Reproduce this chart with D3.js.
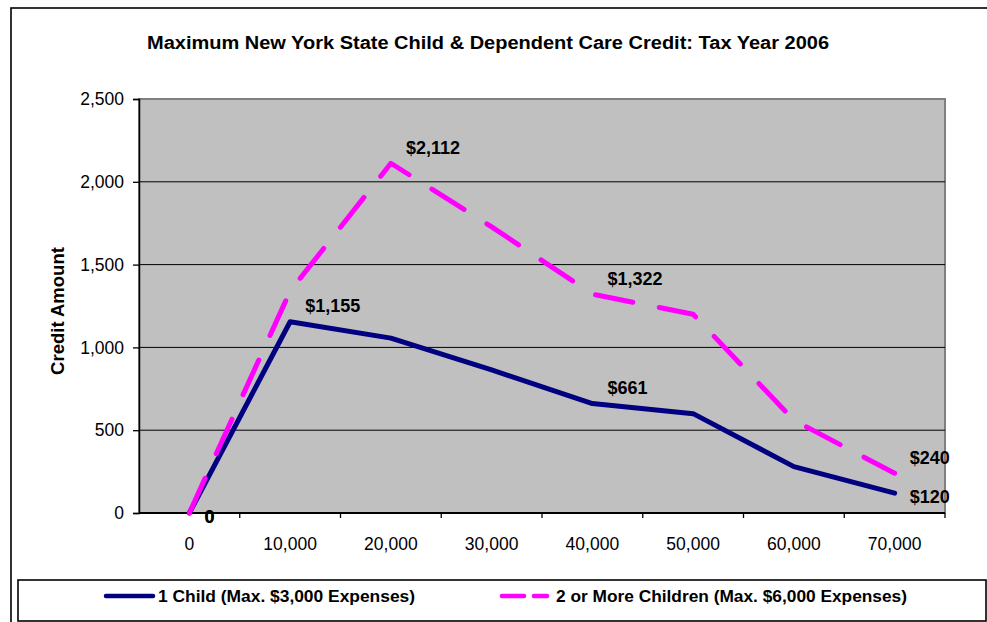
<!DOCTYPE html>
<html><head><meta charset="utf-8">
<script src="https://cdn.jsdelivr.net/npm/d3@7"></script>
<style>
html,body{margin:0;padding:0;background:#fff;}
svg{display:block;font-family:"Liberation Sans",Arial,sans-serif;}
</style></head>
<body><svg id="c" width="987" height="622"></svg>
<script>
const categories = [0, 10000, 20000, 30000, 40000, 50000, 60000, 70000];
const tickLabels = ["0", "10,000", "20,000", "30,000", "40,000", "50,000", "60,000", "70,000"];
const oneChild = [0, 1155, 1056, 864, 661, 600, 280, 120];
const twoPlus = [0, 1340, 2112, 1728, 1322, 1200, 560, 240];
const yTicks = [0, 500, 1000, 1500, 2000, 2500];
const seriesNames = ["1 Child (Max. $3,000 Expenses)", "2 or More Children (Max. $6,000 Expenses)"];
const titleText = "Maximum New York State Child & Dependent Care Credit: Tax Year 2006";
const yTitle = "Credit Amount";

const svg = d3.select("#c");
const L = 139, R = 945, T = 99, B = 513;

// outer chart border
svg.append("rect").attr("x", 11).attr("y", 8).attr("width", 1000).attr("height", 700)
  .attr("fill", "#fff").attr("stroke", "#000").attr("stroke-width", 1.6);

const x = d3.scaleBand().domain(categories).range([L, R]).padding(0);
const y = d3.scaleLinear().domain([0, 2500]).range([B, T]);
const cx = d => x(d) + x.bandwidth() / 2;

// plot area
svg.append("rect").attr("x", L).attr("y", T).attr("width", R - L).attr("height", B - T)
  .attr("fill", "#C0C0C0").attr("stroke", "#808080").attr("stroke-width", 2);

// gridlines
svg.append("g").selectAll("line").data(yTicks.filter(v => v > 0 && v < 2500)).join("line")
  .attr("x1", L).attr("x2", R).attr("y1", d => y(d)).attr("y2", d => y(d))
  .attr("stroke", "#000").attr("stroke-width", 1);

// y axis
const yAxis = d3.axisLeft(y).tickValues(yTicks).tickFormat(d3.format(",")).tickSize(6).tickPadding(9);
const gy = svg.append("g").attr("transform", `translate(${L},0)`).call(yAxis);
gy.select(".domain").attr("stroke", "#000").attr("stroke-width", 1.5);
gy.selectAll(".tick line").attr("stroke", "#000").attr("stroke-width", 1.3);
gy.selectAll(".tick text").attr("font-size", "17.5px").attr("fill", "#000")
  .attr("font-family", "'Liberation Sans', Arial, sans-serif");

// x axis
const gx = svg.append("g").attr("transform", `translate(0,${B})`);
gx.append("line").attr("x1", L).attr("x2", R).attr("stroke", "#000").attr("stroke-width", 2);
gx.selectAll("line.t").data(categories).join("line").attr("class", "t")
  .attr("x1", d => x(d) + x.bandwidth()).attr("x2", d => x(d) + x.bandwidth())
  .attr("y1", 0).attr("y2", 5).attr("stroke", "#000").attr("stroke-width", 1.3);
gx.selectAll("text").data(categories).join("text")
  .attr("x", d => cx(d)).attr("y", 37).attr("text-anchor", "middle")
  .attr("font-size", "17.5px").attr("fill", "#000")
  .text((d, i) => tickLabels[i]);

// lines
const line = d3.line().x((d, i) => cx(categories[i])).y(d => y(d));
svg.append("path").datum(oneChild).attr("d", line).attr("fill", "none")
  .attr("stroke", "#000080").attr("stroke-width", 5).attr("stroke-linejoin", "round").attr("stroke-linecap", "round");
svg.append("path").datum(twoPlus).attr("d", line).attr("fill", "none")
  .attr("stroke", "#FF00FF").attr("stroke-width", 5).attr("stroke-dasharray", "38,27")
  .attr("stroke-linejoin", "round").attr("stroke-linecap", "round");

// data labels
const fmt = v => v === 0 ? "0" : "$" + d3.format(",")(v);
const labelSpecs = [
  {s: oneChild, i: 0, pos: "right"}, {s: oneChild, i: 1, pos: "above"},
  {s: oneChild, i: 4, pos: "above"}, {s: oneChild, i: 7, pos: "right"},
  {s: twoPlus, i: 0, pos: "right"}, {s: twoPlus, i: 2, pos: "above"},
  {s: twoPlus, i: 4, pos: "above"}, {s: twoPlus, i: 7, pos: "above"}
];
svg.append("g").selectAll("text").data(labelSpecs).join("text")
  .attr("x", d => cx(categories[d.i]) + 15)
  .attr("y", d => y(d.s[d.i]) + (d.pos === "above" ? -9.5 : 9.5))
  .attr("font-size", "18px").attr("font-weight", "bold").attr("fill", "#000")
  .text(d => fmt(d.s[d.i]));

// title
svg.append("text").attr("x", 488).attr("y", 49).attr("text-anchor", "middle")
  .attr("font-size", "18px").attr("font-weight", "bold")
  .attr("textLength", 682).attr("lengthAdjust", "spacingAndGlyphs").text(titleText);

// y title
svg.append("text").attr("transform", "translate(64,311) rotate(-90)").attr("text-anchor", "middle")
  .attr("font-size", "18.5px").attr("font-weight", "bold").text(yTitle);

// legend
svg.append("rect").attr("x", 18).attr("y", 580).attr("width", 968).attr("height", 41)
  .attr("fill", "#fff").attr("stroke", "#000").attr("stroke-width", 1.6);
const lg = svg.append("g");
lg.append("line").attr("x1", 106).attr("x2", 153).attr("y1", 596).attr("y2", 596)
  .attr("stroke", "#000080").attr("stroke-width", 4.5).attr("stroke-linecap", "round");
lg.append("line").attr("x1", 502).attr("x2", 547).attr("y1", 596).attr("y2", 596)
  .attr("stroke", "#FF00FF").attr("stroke-width", 4.5).attr("stroke-dasharray", "22,10").attr("stroke-linecap", "round");
lg.append("text").attr("x", 158).attr("y", 602).attr("font-size", "16px").attr("font-weight", "bold")
  .attr("textLength", 257).attr("lengthAdjust", "spacingAndGlyphs").text(seriesNames[0]);
lg.append("text").attr("x", 556).attr("y", 602).attr("font-size", "16px").attr("font-weight", "bold")
  .attr("textLength", 351).attr("lengthAdjust", "spacingAndGlyphs").text(seriesNames[1]);
</script></body></html>
